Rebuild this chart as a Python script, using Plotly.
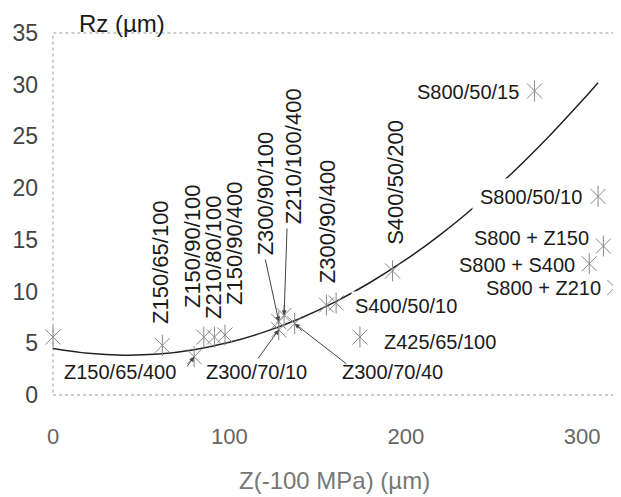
import plotly.graph_objects as go

# ---- data ----
names = ["", "Z150/65/100", "Z150/65/400", "Z150/90/100", "Z210/80/100", "Z150/90/400",
         "Z300/90/100", "Z210/100/400", "Z300/70/10", "Z300/70/40", "Z300/90/400",
         "S400/50/10", "S400/50/200", "Z425/65/100", "S800/50/15", "S800/50/10",
         "S800 + Z150", "S800 + S400", "S800 + Z210"]
z_um = [0, 62, 80, 85.5, 91.5, 97.5, 128, 131, 128, 137, 155, 160.5, 192.5, 174,
        273, 309, 312, 304, 318.5]
rz_um = [5.6, 4.8, 3.7, 5.6, 5.6, 5.8, 7.1, 7.7, 6.3, 6.9, 8.7, 8.9, 12.0, 5.6,
         29.4, 19.2, 14.4, 12.7, 10.4]

# trend curve
trend_x = [0, 20, 40, 60, 80, 100, 120, 140, 160, 180, 200, 220, 240, 260, 280, 300, 309]
trend_y = [4.5, 4.03, 3.85, 3.96, 4.38, 5.09, 6.1, 7.4, 9.0, 10.9, 13.08, 15.56, 18.35,
           21.42, 24.8, 28.47, 30.2]

x_ticks = [0, 100, 200, 300]
y_ticks = [0, 5, 10, 15, 20, 25, 30, 35]

# label placement (text, x, y, angle, white box pad)
label_layout = [
    ("Z150/65/100", 61.2, 12.86, -90, None),
    ("Z150/90/100", 78.8, 14.4, -90, None),
    ("Z210/80/100", 90.7, 13.34, -90, None),
    ("Z150/90/400", 103.2, 14.7, -90, None),
    ("Z300/90/100", 120.2, 19.5, -90, None),
    ("Z210/100/400", 136.1, 23.1, -90, None),
    ("Z300/90/400", 155.3, 16.8, -90, None),
    ("S400/50/200", 194.4, 20.6, -90, None),
    ("Z150/65/400", 38.0, 2.22, 0, None),
    ("Z300/70/10", 115.6, 2.22, 0, None),
    ("Z300/70/40", 192.7, 2.22, 0, None),
    ("Z425/65/100", 219.4, 5.12, 0, None),
    ("S400/50/10", 200.1, 8.6, 0, 3),
    ("S800/50/15", 235.3, 29.3, 0, None),
    ("S800/50/10", 271.0, 19.14, 0, 7),
    ("S800 + Z150", 271.5, 15.18, 0, None),
    ("S800 + S400", 263.0, 12.57, 0, None),
    ("S800 + Z210", 277.8, 10.35, 0, None),
]
# arrows: (point name, tail x, tail y)
arrow_layout = [
    ("Z150/65/400", 75.4, 2.61),
    ("Z300/70/10", 115.6, 3.38),
    ("Z300/70/40", 167.2, 2.9),
    ("Z300/90/100", 120.2, 13.25),
    ("Z210/100/400", 132.7, 16.24),
]

FONT = "Arial, Liberation Sans, sans-serif"

fig = go.Figure()
fig.add_trace(go.Scatter(x=trend_x, y=trend_y, mode="lines", line=dict(color="#222", width=1.5),
                         line_shape="spline", hoverinfo="skip", cliponaxis=False))
for sym in ["x-thin-open", "line-ns-open"]:
    fig.add_trace(go.Scatter(x=z_um, y=rz_um, mode="markers", text=names, cliponaxis=False,
                             marker=dict(symbol=sym, size=15, color="#888",
                                         line=dict(color="#888", width=1))))

annotations = []
for text, lx, ly, ang, pad in label_layout:
    a = dict(x=lx, y=ly, xref="x", yref="y", text=text, showarrow=False, textangle=ang,
             xanchor="center", yanchor="middle",
             font=dict(family=FONT, size=22 if ang else 20, color="#1a1a1a"))
    if pad is not None:
        a.update(bgcolor="white", borderpad=pad)
    annotations.append(a)

for nm, tx, ty in arrow_layout:
    i = names.index(nm)
    annotations.append(dict(x=z_um[i], y=rz_um[i], xref="x", yref="y", ax=tx, ay=ty,
                            axref="x", ayref="y", text="", showarrow=True, arrowhead=2,
                            arrowsize=1, arrowwidth=1, arrowcolor="#444"))

annotations.append(dict(x=0.1215, y=1.0276, xref="paper", yref="paper", text="Rz (µm)",
                        xanchor="center", yanchor="middle", showarrow=False,
                        font=dict(family=FONT, size=24, color="#1a1a1a")))
annotations.append(dict(x=0.496, y=-0.235, xref="paper", yref="paper", text="Z(-100 MPa) (µm)",
                        xanchor="center", yanchor="middle", showarrow=False,
                        font=dict(family=FONT, size=24, color="#777")))

# page body adds an 8px margin, so the figure is 8px smaller and margins shifted
fig.update_layout(
    width=613, height=489, margin=dict(l=45, r=0, t=25, b=102, autoexpand=False),
    paper_bgcolor="white", plot_bgcolor="white", showlegend=False,
    annotations=annotations,
    shapes=[dict(type="rect", xref="paper", yref="paper", x0=0, x1=1.01, y0=0, y1=1,
                 line=dict(color="#999", width=1, dash="dot"), layer="below")],
    xaxis=dict(range=[0, 322], tickvals=x_ticks, showgrid=False, zeroline=False,
               showline=False, ticks="", ticklabelstandoff=26, automargin=False,
               tickfont=dict(family=FONT, size=22, color="#666")),
    yaxis=dict(range=[0, 35], tickvals=y_ticks, showgrid=False, zeroline=False,
               showline=False, ticks="", ticklabelstandoff=14, automargin=False,
               tickfont=dict(family=FONT, size=23, color="#444")),
)

fig.write_html("out.html")
